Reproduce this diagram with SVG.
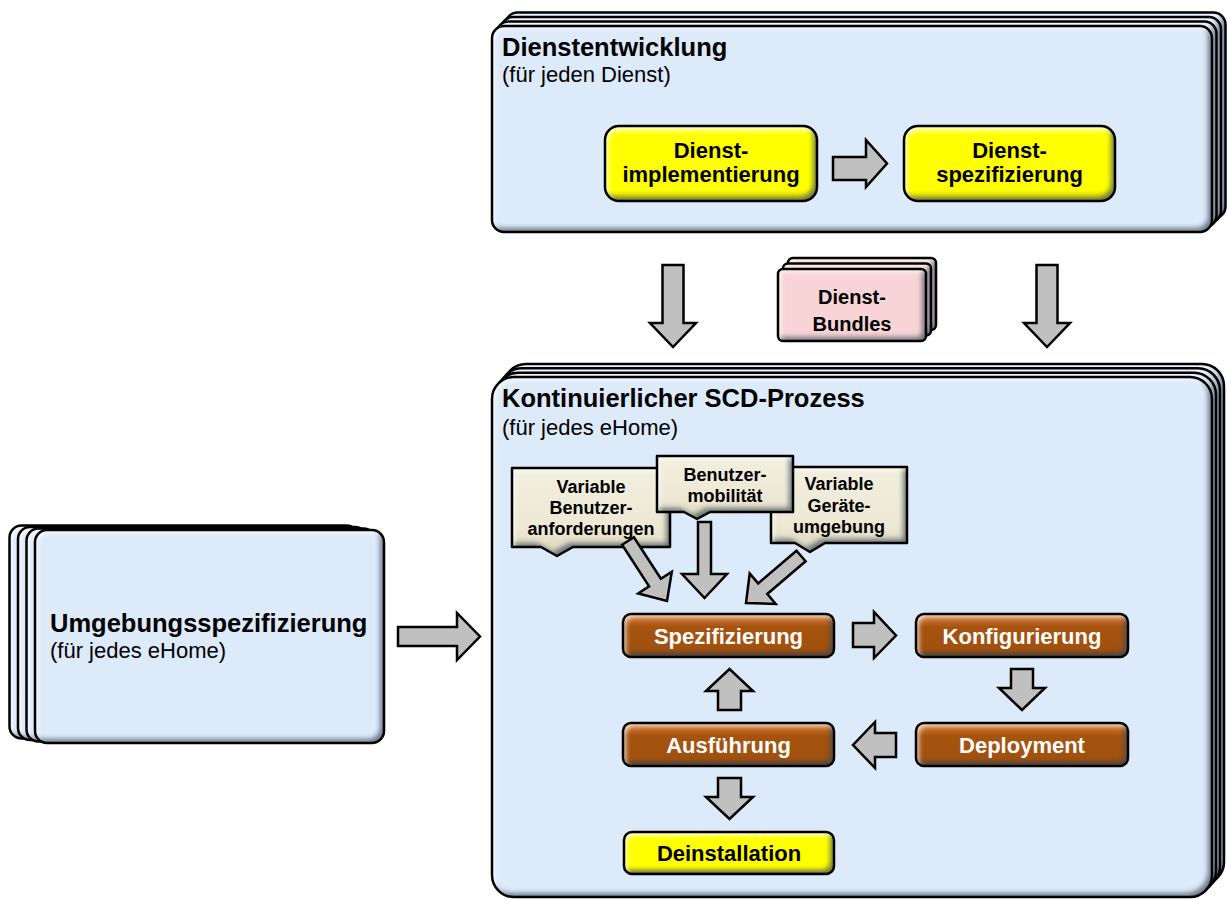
<svg xmlns="http://www.w3.org/2000/svg" width="1227" height="900" viewBox="0 0 1227 900">
  <defs>
    <style>
      text { font-family: "Liberation Sans", Arial, sans-serif; fill: #000; }
      .title { font-size: 25.5px; font-weight: bold; }
      .sub { font-size: 22px; }
      .lbl { font-size: 22px; font-weight: bold; text-anchor: middle; }
      .lblw { font-size: 22px; font-weight: bold; text-anchor: middle; fill: #fff; }
      .note { font-size: 18px; font-weight: bold; text-anchor: middle; }
      .bun { font-size: 20px; font-weight: bold; text-anchor: middle; }
      .edge { fill: none; stroke: #000; stroke-width: 2.5; stroke-linejoin: round; }
      .blue { fill: #DDEAFA; }
      .yellow { fill: url(#gYellow); }
      .brown { fill: url(#gBrown); }
      .pink { fill: #F8D4D7; }
      .beige { fill: url(#gBeige); }
      .arrow { fill: #C0C0C0; stroke: #000; stroke-width: 2.5; stroke-linejoin: miter; }
    </style>
    <linearGradient id="gYellow" x1="0" y1="0" x2="0" y2="1">
      <stop offset="0" stop-color="#FFFF80"/>
      <stop offset="0.12" stop-color="#FFFF00"/>
      <stop offset="0.85" stop-color="#FFFF00"/>
      <stop offset="1" stop-color="#D4D400"/>
    </linearGradient>
    <linearGradient id="gBrown" x1="0" y1="0" x2="0" y2="1">
      <stop offset="0" stop-color="#DB8A4A"/>
      <stop offset="0.14" stop-color="#C46B28"/>
      <stop offset="0.3" stop-color="#A6530F"/>
      <stop offset="0.85" stop-color="#A1500E"/>
      <stop offset="1" stop-color="#7A3A06"/>
    </linearGradient>
    <linearGradient id="gBeige" x1="0" y1="0" x2="0" y2="1">
      <stop offset="0" stop-color="#F2EFDF"/>
      <stop offset="0.7" stop-color="#ECE8D4"/>
      <stop offset="1" stop-color="#D9D3B8"/>
    </linearGradient>
    <!-- soft inner bevel: dark along bottom/right, light along top/left -->
    <filter id="bevel" x="-3%" y="-3%" width="106%" height="106%" color-interpolation-filters="sRGB">
      <feGaussianBlur in="SourceAlpha" stdDeviation="2.5" result="b"/>
      <feOffset in="b" dx="-4" dy="-4" result="o1"/>
      <feComposite in="SourceAlpha" in2="o1" operator="arithmetic" k2="1" k3="-1" result="dark"/>
      <feFlood flood-color="#3C4A5A" flood-opacity="0.7"/>
      <feComposite in2="dark" operator="in" result="darkC"/>
      <feOffset in="b" dx="3" dy="3" result="o2"/>
      <feComposite in="SourceAlpha" in2="o2" operator="arithmetic" k2="1" k3="-1" result="light"/>
      <feFlood flood-color="#FFFFFF" flood-opacity="0.75"/>
      <feComposite in2="light" operator="in" result="lightC"/>
      <feMerge>
        <feMergeNode in="SourceGraphic"/>
        <feMergeNode in="darkC"/>
        <feMergeNode in="lightC"/>
      </feMerge>
    </filter>
  </defs>

  <rect width="1227" height="900" fill="#fff"/>

  <!-- Service development stack -->
  <g id="dienstentwicklung">
    <rect class="blue" filter="url(#bevel)" x="505.5" y="12.5" width="720" height="206" rx="12"/>
    <rect class="edge" x="505.5" y="12.5" width="720" height="206" rx="12"/>
    <rect class="blue" filter="url(#bevel)" x="501" y="17" width="720" height="206" rx="12"/>
    <rect class="edge" x="501" y="17" width="720" height="206" rx="12"/>
    <rect class="blue" filter="url(#bevel)" x="496.5" y="21.5" width="720" height="206" rx="12"/>
    <rect class="edge" x="496.5" y="21.5" width="720" height="206" rx="12"/>
    <rect class="blue" filter="url(#bevel)" x="492" y="26" width="720" height="206" rx="12"/>
    <rect class="edge" x="492" y="26" width="720" height="206" rx="12"/>
    <text class="title" x="502" y="56">Dienstentwicklung</text>
    <text class="sub" x="502" y="82">(für jeden Dienst)</text>
  </g>

  <g id="dienst-implementierung">
    <rect class="yellow" filter="url(#bevel)" x="605" y="126" width="212" height="75" rx="14"/>
    <rect class="edge" x="605" y="126" width="212" height="75" rx="14"/>
    <text class="lbl" x="711" y="158">Dienst-</text>
    <text class="lbl" x="711" y="182">implementierung</text>
  </g>

  <g id="dienst-spezifizierung">
    <rect class="yellow" filter="url(#bevel)" x="904" y="126" width="211" height="75" rx="14"/>
    <rect class="edge" x="904" y="126" width="211" height="75" rx="14"/>
    <text class="lbl" x="1009.5" y="158">Dienst-</text>
    <text class="lbl" x="1009.5" y="182">spezifizierung</text>
  </g>

  <!-- Service bundles stack -->
  <g id="dienst-bundles">
    <rect class="pink" filter="url(#bevel)" x="788" y="258" width="148" height="72" rx="5"/>
    <rect class="edge" x="788" y="258" width="148" height="72" rx="5"/>
    <rect class="pink" filter="url(#bevel)" x="783" y="263.5" width="148" height="72" rx="5"/>
    <rect class="edge" x="783" y="263.5" width="148" height="72" rx="5"/>
    <rect class="pink" filter="url(#bevel)" x="778" y="269" width="148" height="72" rx="5"/>
    <rect class="edge" x="778" y="269" width="148" height="72" rx="5"/>
    <text class="bun" x="852" y="304">Dienst-</text>
    <text class="bun" x="852" y="331">Bundles</text>
  </g>

  <!-- Environment specification stack -->
  <g id="umgebungsspezifizierung">
    <rect class="blue" filter="url(#bevel)" x="9.5" y="525.5" width="349" height="213" rx="12"/>
    <rect class="edge" x="9.5" y="525.5" width="349" height="213" rx="12"/>
    <rect class="blue" filter="url(#bevel)" x="18" y="527" width="349" height="213" rx="12"/>
    <rect class="edge" x="18" y="527" width="349" height="213" rx="12"/>
    <rect class="blue" filter="url(#bevel)" x="26.5" y="528.5" width="349" height="213" rx="12"/>
    <rect class="edge" x="26.5" y="528.5" width="349" height="213" rx="12"/>
    <rect class="blue" filter="url(#bevel)" x="35" y="530" width="349" height="213" rx="12"/>
    <rect class="edge" x="35" y="530" width="349" height="213" rx="12"/>
    <text class="title" x="50" y="632">Umgebungsspezifizierung</text>
    <text class="sub" x="50" y="658">(für jedes eHome)</text>
  </g>

  <!-- Continuous SCD process stack -->
  <g id="scd-prozess">
    <rect class="blue" filter="url(#bevel)" x="504" y="364" width="720" height="520" rx="22"/>
    <rect class="edge" x="504" y="364" width="720" height="520" rx="22"/>
    <rect class="blue" filter="url(#bevel)" x="500" y="368.3" width="720" height="520" rx="22"/>
    <rect class="edge" x="500" y="368.3" width="720" height="520" rx="22"/>
    <rect class="blue" filter="url(#bevel)" x="496" y="372.7" width="720" height="520" rx="22"/>
    <rect class="edge" x="496" y="372.7" width="720" height="520" rx="22"/>
    <rect class="blue" filter="url(#bevel)" x="492" y="377" width="720" height="520" rx="22"/>
    <rect class="edge" x="492" y="377" width="720" height="520" rx="22"/>
    <text class="title" x="502" y="407">Kontinuierlicher SCD-Prozess</text>
    <text class="sub" x="502" y="435">(für jedes eHome)</text>
  </g>

  <!-- Influence callouts -->
  <g id="benutzeranforderungen">
    <path class="beige" filter="url(#bevel)" d="M512,468 H670 V547 H573 L557,556 L541,547 H512 Z"/>
    <path class="edge" d="M512,468 H670 V547 H573 L557,556 L541,547 H512 Z"/>
    <text class="note" x="591" y="493">Variable</text>
    <text class="note" x="591" y="514">Benutzer-</text>
    <text class="note" x="591" y="535">anforderungen</text>
  </g>

  <g id="geraeteumgebung">
    <path class="beige" filter="url(#bevel)" d="M771,467 H907 V543 H825 L810,552 L795,543 H771 Z"/>
    <path class="edge" d="M771,467 H907 V543 H825 L810,552 L795,543 H771 Z"/>
    <text class="note" x="839" y="490">Variable</text>
    <text class="note" x="839" y="512">Geräte-</text>
    <text class="note" x="839" y="533">umgebung</text>
  </g>

  <g id="benutzermobilitaet">
    <path class="beige" filter="url(#bevel)" d="M657,456 H793 V512 H710 L697,519 L684,512 H657 Z"/>
    <path class="edge" d="M657,456 H793 V512 H710 L697,519 L684,512 H657 Z"/>
    <text class="note" x="725" y="481">Benutzer-</text>
    <text class="note" x="725" y="502">mobilität</text>
  </g>

  <!-- Process steps -->
  <g id="spezifizierung">
    <rect class="brown" filter="url(#bevel)" x="623" y="614" width="211" height="43" rx="8"/>
    <rect class="edge" x="623" y="614" width="211" height="43" rx="8"/>
    <text class="lblw" x="728.5" y="643.5">Spezifizierung</text>
  </g>

  <g id="konfigurierung">
    <rect class="brown" filter="url(#bevel)" x="916" y="614" width="212" height="43" rx="8"/>
    <rect class="edge" x="916" y="614" width="212" height="43" rx="8"/>
    <text class="lblw" x="1022" y="643.5">Konfigurierung</text>
  </g>

  <g id="deployment">
    <rect class="brown" filter="url(#bevel)" x="916" y="723" width="212" height="43" rx="8"/>
    <rect class="edge" x="916" y="723" width="212" height="43" rx="8"/>
    <text class="lblw" x="1022" y="752.5">Deployment</text>
  </g>

  <g id="ausfuehrung">
    <rect class="brown" filter="url(#bevel)" x="623" y="723" width="211" height="43" rx="8"/>
    <rect class="edge" x="623" y="723" width="211" height="43" rx="8"/>
    <text class="lblw" x="728.5" y="752.5">Ausführung</text>
  </g>

  <g id="deinstallation">
    <rect class="yellow" filter="url(#bevel)" x="624" y="832" width="210" height="42" rx="8"/>
    <rect class="edge" x="624" y="832" width="210" height="42" rx="8"/>
    <text class="lbl" x="729" y="861">Deinstallation</text>
  </g>

  <!-- Block arrows -->
  <g id="connectors">
    <polygon class="arrow" points="833,157 866,157 866,140 887,163.5 866,187 866,180 833,180"/>
    <polygon class="arrow" points="662.5,265 683.5,265 683.5,323 696,323 673,347 650,323 662.5,323"/>
    <polygon class="arrow" points="1036.5,265 1057.5,265 1057.5,323 1070,323 1047,347 1024,323 1036.5,323"/>
    <polygon class="arrow" points="398,627 457,627 457,613 480,636.5 457,660 457,646 398,646"/>
    <polygon class="arrow" points="622.1,544.8 649.1,586.4 638.2,593.5 667,601 671.8,571.7 660.9,578.7 633.9,537.2"/>
    <polygon class="arrow" points="698,522 711,522 711,574 727,574 704.5,598 682,574 698,574"/>
    <polygon class="arrow" points="796.5,550.7 758.2,583.4 749.7,573.5 746,603 775.7,603.9 767.3,594 805.6,561.3"/>
    <polygon class="arrow" points="853,623 874,623 874,612 896,635.5 874,658 874,647 853,647"/>
    <polygon class="arrow" points="1011,669 1033,669 1033,688 1045,688 1022,710 999,688 1011,688"/>
    <polygon class="arrow" points="896,733 875,733 875,722 853,745 875,768 875,757 896,757"/>
    <polygon class="arrow" points="718,710 741,710 741,691 753,691 729.5,669 706,691 718,691"/>
    <polygon class="arrow" points="718,778 741,778 741,797 753,797 729.5,819 706,797 718,797"/>
  </g>
</svg>
